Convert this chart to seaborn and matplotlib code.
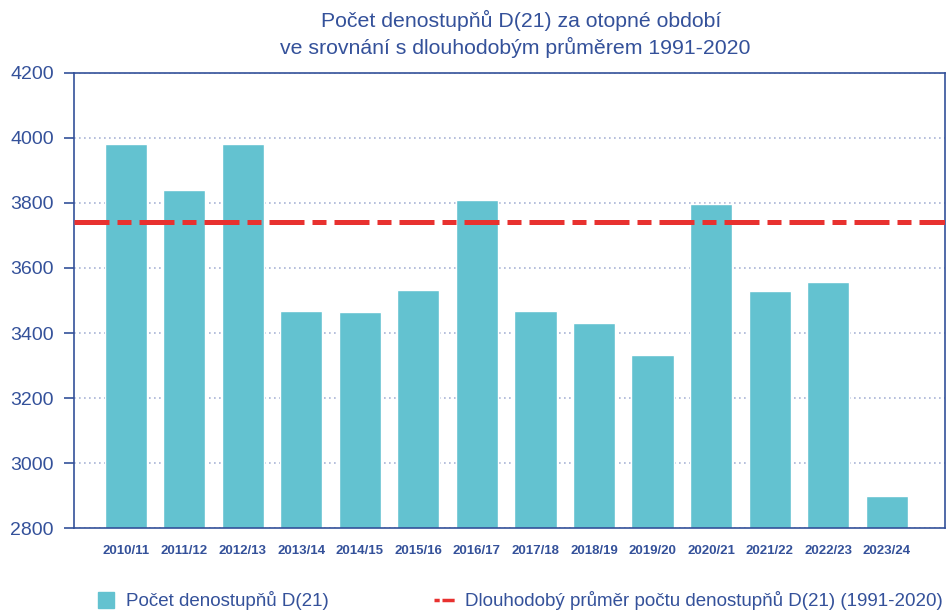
import numpy as np
import pandas as pd
import matplotlib
matplotlib.use("Agg")
import matplotlib.pyplot as plt
import seaborn as sns
from matplotlib.lines import Line2D

# Data
sezony = ["2010/11", "2011/12", "2012/13", "2013/14", "2014/15", "2015/16", "2016/17",
          "2017/18", "2018/19", "2019/20", "2020/21", "2021/22", "2022/23", "2023/24"]
denostupne = [3982, 3840, 3982, 3468, 3465, 3532, 3809, 3468, 3431, 3332, 3797, 3529, 3557, 2898]
prumer_1991_2020 = 3742

BAR_COLOR = "#63C2D0"
LINE_COLOR = "#E8312F"
DARK_BLUE = "#34519A"

sns.set_theme(style="white")
plt.rcParams['font.family'] = ['Liberation Sans', 'DejaVu Sans']

df = pd.DataFrame({"sezona": sezony, "d21": denostupne})

fig = plt.figure(figsize=(9.5, 6.12), dpi=100)
ax = fig.add_axes([0.078, 0.137, 0.917, 0.744])

sns.barplot(data=df, x="sezona", y="d21", color=BAR_COLOR, saturation=1,
            width=0.72, ax=ax, zorder=2)

# prumerna hodnota - carka tecka
ax.axhline(prumer_1991_2020, color=LINE_COLOR, lw=3.6, zorder=3,
           linestyle=(0, (7.0, 1.6, 2.8, 1.6)), solid_capstyle="butt")

ax.set_ylim(2800, 4200)
ax.set_xlim(-0.88, 14.0)
ax.set_yticks(np.arange(2800, 4201, 200))
ax.yaxis.grid(True, linestyle=(0, (1, 2)), color="#A9B4D6", lw=1.2, zorder=0)
ax.set_axisbelow(True)

for sp in ax.spines.values():
    sp.set_color(DARK_BLUE)
    sp.set_linewidth(1.2)

ax.tick_params(axis="y", colors=DARK_BLUE, labelsize=14, length=7.5, width=1.2,
               direction="out", left=True, pad=7)
ax.tick_params(axis="x", colors=DARK_BLUE, labelsize=9.5, length=0, pad=12)
for lbl in ax.get_xticklabels():
    lbl.set_family(['Liberation Sans Narrow', 'Liberation Sans', 'DejaVu Sans'])
    lbl.set_fontweight("bold")
ax.set_xlabel("")
ax.set_ylabel("")

fig.text(0.549, 0.966, "Počet denostupňů D(21) za otopné období",
         ha="center", va="center", fontsize=15.3, color=DARK_BLUE)
fig.text(0.542, 0.922, "ve srovnání s dlouhodobým průměrem 1991-2020",
         ha="center", va="center", fontsize=15.3, color=DARK_BLUE)

handles = [
    Line2D([0], [0], marker="s", color="none", markerfacecolor=BAR_COLOR,
           markeredgecolor=BAR_COLOR, markersize=11),
    Line2D([0], [0], color=LINE_COLOR, lw=2.5, linestyle=(0, (1.5, 0.8, 3.5, 0.8))),
]
labels = ["Počet denostupňů D(21)", "Dlouhodobý průměr počtu denostupňů D(21) (1991-2020)"]
leg = fig.legend(handles, labels, loc="center", bbox_to_anchor=(0.546, 0.018), ncol=2,
                 frameon=False, fontsize=13.5, columnspacing=5.6, handlelength=1.2,
                 handletextpad=0.45)
for t in leg.get_texts():
    t.set_color(DARK_BLUE)

fig.savefig("out.png", dpi=100)
